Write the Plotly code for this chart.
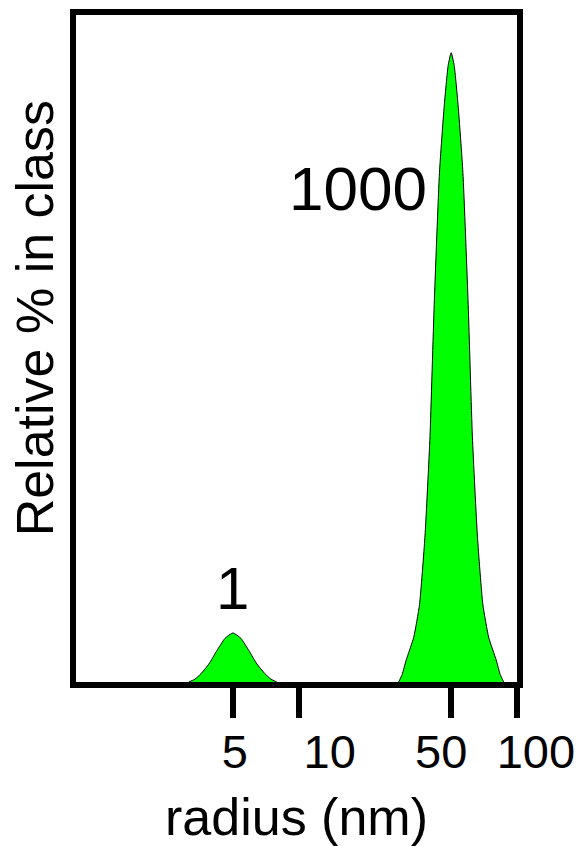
import math
import plotly.graph_objects as go

# Size distribution (radius in nm, relative % in class), two populations
small_radius = [3.14, 3.35, 3.57, 3.88, 4.22, 4.60, 5.00, 5.44, 5.92, 6.44, 7.01, 7.47, 7.95]
small_pct = [0.0, 0.45, 1.32, 2.86, 4.98, 6.94, 7.8, 6.94, 4.98, 2.86, 1.32, 0.45, 0.0]

large_radius = [28.73, 29.81, 31.11, 33.67, 35.79, 37.89, 39.98, 41.79, 44.19, 46.44, 48.44, 50.0,
                51.6, 53.83, 56.57, 59.82, 62.53, 65.98, 69.86, 74.26, 80.37, 83.86, 87.0]
large_pct = [0.0, 1.2, 3.5, 7.1, 12.3, 23.0, 39.0, 60.0, 81.0, 91.5, 98.0, 100.0,
             98.0, 91.5, 81.0, 60.0, 39.0, 23.0, 12.3, 7.1, 3.5, 1.2, 0.0]

peak_labels = ["1", "1000"]
tick_vals = [5, 10, 50, 100]
tick_text = ["5", "10", "50", "100"]
# sideways nudge (px) for each tick label
tick_label_shift = [2, 31, -10, 19]

FONT = "Liberation Sans, Arial, sans-serif"
GREEN = "#00ff00"
X_RANGE = [-0.02, 2.0005]

fig = go.Figure()
for r, p in [(small_radius, small_pct), (large_radius, large_pct)]:
    fig.add_trace(go.Scatter(
        x=r, y=p, mode="lines", fill="tozeroy", fillcolor=GREEN,
        line=dict(color="black", width=1, shape="spline", smoothing=0.5),
        hoverinfo="skip", showlegend=False,
    ))

fig.add_annotation(x=math.log10(5), y=14.8, xref="x", yref="y", text=peak_labels[0],
                   showarrow=False, font=dict(family=FONT, size=60, color="black"),
                   xanchor="center", yanchor="middle")
fig.add_annotation(x=math.log10(18.8), y=78.4, xref="x", yref="y", text=peak_labels[1],
                   showarrow=False, font=dict(family=FONT, size=62, color="black"),
                   xanchor="center", yanchor="middle")

fig.add_annotation(x=-0.091, y=0.545, xref="paper", yref="paper",
                   text="Relative % in class", textangle=-90, showarrow=False,
                   font=dict(family=FONT, size=52, color="black"),
                   xanchor="center", yanchor="middle")

# one overlaid log axis per tick so every label can sit at its own offset
axis_style = dict(
    type="log", range=X_RANGE, automargin=False, tickangle=0,
    ticks="outside", ticklen=30, tickwidth=6, tickcolor="black",
    showline=True, linewidth=6, linecolor="black", mirror=True,
    showgrid=False, zeroline=False, ticklabelstandoff=-6,
    tickfont=dict(family=FONT, size=47, color="black"),
)
layout_axes = {}
for i, (v, t, s) in enumerate(zip(tick_vals, tick_text, tick_label_shift)):
    name = "xaxis" if i == 0 else f"xaxis{i + 1}"
    ax = dict(axis_style, tickvals=[v], ticktext=[t], ticklabelshift=s)
    if i == 0:
        ax["title"] = dict(text="radius (nm)", font=dict(family=FONT, size=52, color="black"),
                           standoff=26)
    else:
        ax["overlaying"] = "x"
        ax["anchor"] = "y"
        ax["side"] = "bottom"
        fig.add_trace(go.Scatter(x=[], y=[], xaxis=f"x{i + 1}", yaxis="y",
                                 showlegend=False, hoverinfo="skip"))
    layout_axes[name] = ax

fig.update_layout(**layout_axes)
fig.update_yaxes(
    range=[0, 106], showticklabels=False, ticks="", automargin=False,
    showline=True, linewidth=6, linecolor="black", mirror=True,
    showgrid=False, zeroline=False,
)

fig.update_layout(
    width=582, height=846, autosize=False,
    margin=dict(l=76, r=65, t=15, b=164),
    paper_bgcolor="white", plot_bgcolor="white",
)

fig.write_html("out.html")
